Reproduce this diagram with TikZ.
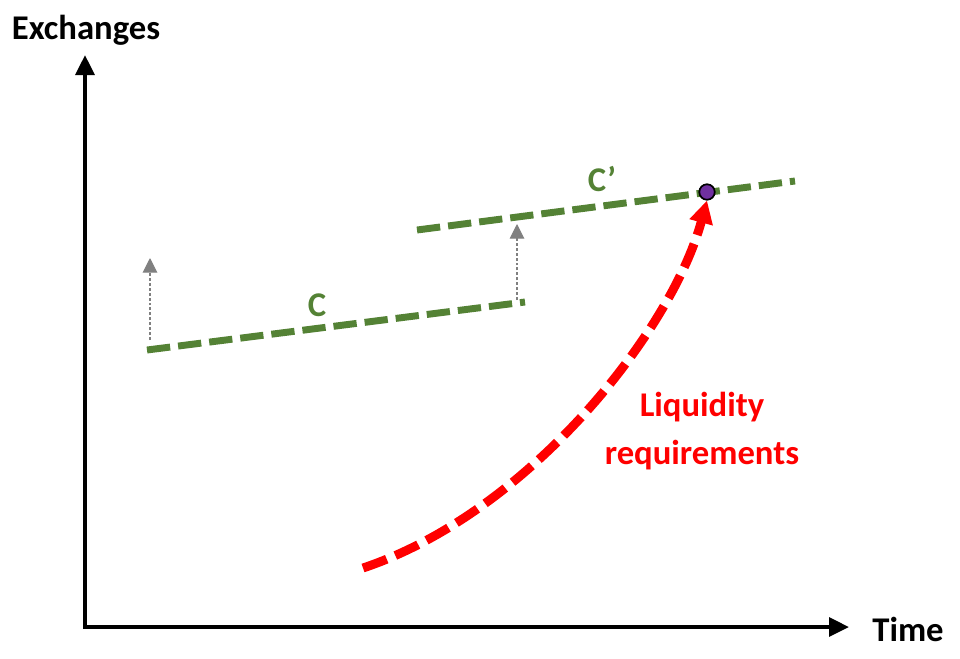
\documentclass[tikz,border=0pt]{standalone}
\usepackage{fontspec}
\setmainfont{Carlito}
\usetikzlibrary{arrows.meta}
\definecolor{cgreen}{RGB}{84,130,53}
\definecolor{cpurple}{RGB}{112,48,160}
\definecolor{cgrey}{RGB}{128,128,128}
\tikzset{
  axis/.style={line width=3pt,-{Triangle[length=15pt,width=14pt]}},
  curveline/.style={cgreen,line width=5.2pt,dash pattern=on 17.5pt off 6pt},
  shiftarrow/.style={cgrey,line width=0.8pt,dash pattern=on 2.2pt off 1.5pt,-{Triangle[length=11pt,width=11pt]}},
  liq/.style={red,line width=6.7pt,dash pattern=on 19pt off 7pt,-{Triangle[length=17pt,width=17pt]}},
  lbl/.style={font=\fontsize{26}{35.5}\selectfont\bfseries,inner sep=0pt,align=center},
  dotstyle/.style={circle,fill=cpurple,draw=black,line width=1.2pt,minimum size=11.5pt,inner sep=0pt}
}
\begin{document}
\begin{tikzpicture}[x=0.75pt,y=-0.75pt]
\useasboundingbox (0,0) rectangle (960,658);
% axes
\coordinate (o) at (85,627);
\coordinate (ytop) at (85,55);
\coordinate (xend) at (849,627);
\draw[axis] ([yshift=1.5pt]o) -- (ytop);
\draw[axis] ([xshift=-1.5pt]o) -- (xend);
\node[lbl] (ylab) at (86,30) {Exchanges};
\node[lbl] (xlab) at (908,629) {Time};
% curve C
\coordinate (c1) at (147,350);
\coordinate (c2) at (525,302);
\draw[curveline] (c1) -- (c2);
\node[lbl,text=cgreen] (clab) at (317,305) {C};
% curve C'
\coordinate (d1) at (417,230);
\coordinate (d2) at (795,181);
\draw[curveline] (d1) -- (d2);
\node[lbl,text=cgreen] (dlab) at (602,179) {C’};
% shift arrows
\coordinate (s1a) at (150,340);
\coordinate (s1b) at (150,258);
\coordinate (s2a) at (517,300);
\coordinate (s2b) at (517,224);
\draw[shiftarrow] (s1a) -- (s1b);
\draw[shiftarrow] (s2a) -- (s2b);
% liquidity
\node[dotstyle] (dot) at (707,192) {};
\coordinate (rs) at (363,568);
\coordinate (rc1) at (530,512);
\coordinate (rc2) at (672,330);
\draw[liq] (rs) .. controls (rc1) and (rc2) .. (dot.south);
\node[dotstyle] at (dot) {};
\node[lbl,text=red] (liqlab) at (702,431) {Liquidity\\requirements};
\end{tikzpicture}
\end{document}
